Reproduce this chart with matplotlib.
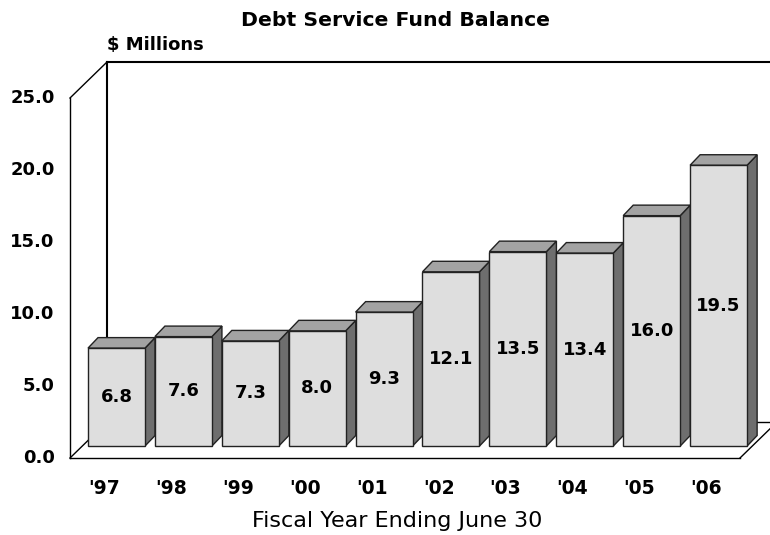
import matplotlib
matplotlib.use('Agg')
import matplotlib.pyplot as plt
from matplotlib.patches import Polygon

plt.rcParams['font.family'] = ['DejaVu Sans']

years = ["'97", "'98", "'99", "'00", "'01", "'02", "'03", "'04", "'05", "'06"]
balance = [6.8, 7.6, 7.3, 8.0, 9.3, 12.1, 13.5, 13.4, 16.0, 19.5]
yticks = [0, 5, 10, 15, 20, 25]

W, H = 770, 535
fig = plt.figure(figsize=(W / 100, H / 100), dpi=100)
ax = fig.add_axes([70 / W, (H - 458) / H, (740 - 70) / W, (458 - 98) / H])

xmin, xmax = -0.511, 9.504
ymin, ymax = 0, 25
ax.set_xlim(xmin, xmax)
ax.set_ylim(ymin, ymax)
ax.axis('off')

# depth of the box and of the bars (data units)
fdx, fdy = 0.553, 2.5
bpx, bpy = 0.184, 0.83
bdx, bdy = 0.15, 0.73
bw = 0.852

# frame
kw = dict(color='black', lw=1.0, clip_on=False, zorder=1)
ax.plot([xmin, xmin], [ymin, ymax], **kw)
ax.plot([xmin, xmax], [ymin, ymin], **kw)
ax.plot([xmin, xmin + fdx], [ymax, ymax + fdy], **kw)
ax.plot([xmin, xmin + fdx], [ymin, ymin + fdy], **kw)
ax.plot([xmax, xmax + fdx], [ymin, ymin + fdy], **kw)
ax.plot([xmin + fdx, xmin + fdx], [ymin + fdy, ymax + fdy], color='black', lw=1.5, clip_on=False, zorder=1)
ax.plot([xmin + fdx, xmax + fdx], [ymax + fdy, ymax + fdy], color='black', lw=1.5, clip_on=False, zorder=1)
ax.plot([xmin + fdx, xmax + fdx], [ymin + fdy, ymin + fdy], **kw)

# bars
for i, v in enumerate(balance):
    x0 = i - bw / 2 + bpx
    x1 = x0 + bw
    y0 = bpy
    y1 = bpy + v
    front = [(x0, y0), (x1, y0), (x1, y1), (x0, y1)]
    side = [(x1, y0), (x1 + bdx, y0 + bdy), (x1 + bdx, y1 + bdy), (x1, y1)]
    top = [(x0, y1), (x1, y1), (x1 + bdx, y1 + bdy), (x0 + bdx, y1 + bdy)]
    for pts, c in [(side, '#6e6e6e'), (top, '#a3a3a3'), (front, '#dedede')]:
        ax.add_patch(Polygon(pts, closed=True, facecolor=c, edgecolor='#222222',
                             lw=1.0, clip_on=False, zorder=3 + i * 0.01))
    ax.text((x0 + x1) / 2, (y0 + y1) / 2, f'{v:.1f}', ha='center', va='center',
            fontsize=13, fontweight='bold', zorder=5)
    ax.text(i, -2.1, years[i], ha='center', va='center', fontsize=13.5, fontweight='bold')

for t in yticks:
    ax.text(xmin - 0.23, t, f'{t:.1f}', ha='right', va='center', fontsize=13, fontweight='bold')

fig.text(396 / W, 1 - 20 / H, 'Debt Service Fund Balance', ha='center', va='center',
         fontsize=14.7, fontweight='bold')
fig.text(107 / W, 1 - 45 / H, '$ Millions', ha='left', va='center',
         fontsize=13, fontweight='bold')
fig.text(397 / W, 1 - 521 / H, 'Fiscal Year Ending June 30', ha='center', va='center',
         fontsize=16)

fig.savefig('out.png', dpi=100)
